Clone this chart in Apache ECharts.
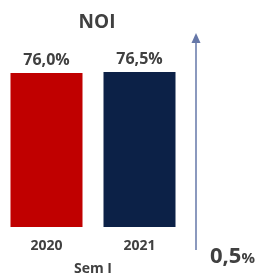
<!DOCTYPE html>
<html>
<head>
<meta charset="utf-8">
<script src="https://cdn.jsdelivr.net/npm/echarts@6/dist/echarts.min.js"></script>
<style>
  html, body { margin: 0; padding: 0; background: #fff; }
  #noi { width: 274px; height: 275px; }
</style>
</head>
<body>
<div id="noi"></div>
<script>
var categories = ['2020', '2021'];
var values = [76.0, 76.5];
var barColors = ['#c00000', '#0c2147'];

var fmt = function (v) { return v.toFixed(1).replace('.', ','); };
var diff = fmt(values[1] - values[0]);

var chart = echarts.init(document.getElementById('noi'));
var font = 'Open Sans';

option = {
    animation: false,
    title: {
        text: 'NOI',
        left: 92,
        top: 8,
        textAlign: 'center',
        textStyle: { fontFamily: font, fontSize: 19, fontWeight: 'bold', color: '#404040' }
    },
    grid: { left: 0, top: 72, width: 186, bottom: 48, outerBoundsMode: 'none', containLabel: false },
    xAxis: {
        type: 'category',
        data: categories,
        axisLine: { show: false },
        axisTick: { show: false },
        axisLabel: { fontFamily: font, fontSize: 14, fontWeight: 'bold', color: '#404040', margin: 12 },
        name: 'Sem I',
        nameLocation: 'middle',
        nameGap: 35,
        nameTextStyle: { fontFamily: font, fontSize: 14, fontWeight: 'bold', color: '#404040' }
    },
    yAxis: { type: 'value', min: 0, max: 76.5, show: false },
    series: [{
        type: 'bar',
        barWidth: 72,
        data: values.map(function (v, i) {
            return { value: v, itemStyle: { color: barColors[i] } };
        }),
        label: {
            show: true,
            position: 'top',
            distance: 5,
            formatter: function (p) { return fmt(p.value) + '%'; },
            fontFamily: font, fontSize: 16, fontWeight: 'bold', color: '#404040'
        }
    }],
    graphic: [
        {
            type: 'line',
            shape: { x1: 196, y1: 250, x2: 196, y2: 40 },
            style: { stroke: '#6577a8', lineWidth: 1.5 }
        },
        {
            type: 'polygon',
            shape: { points: [[196, 33], [191.5, 43], [200.5, 43]] },
            style: { fill: '#6577a8' }
        },
        {
            type: 'text',
            left: 210,
            top: 246,
            style: {
                text: '{a|' + diff + '}{b|%}',
                rich: {
                    a: { fontFamily: font, fontSize: 22, fontWeight: 'bold', fill: '#404040' },
                    b: { fontFamily: font, fontSize: 15, fontWeight: 'bold', fill: '#404040', padding: [4, 0, 0, 0] }
                }
            }
        }
    ]
};

chart.setOption(option);
window.addEventListener('resize', function () { chart.resize(); });
</script>
</body>
</html>
